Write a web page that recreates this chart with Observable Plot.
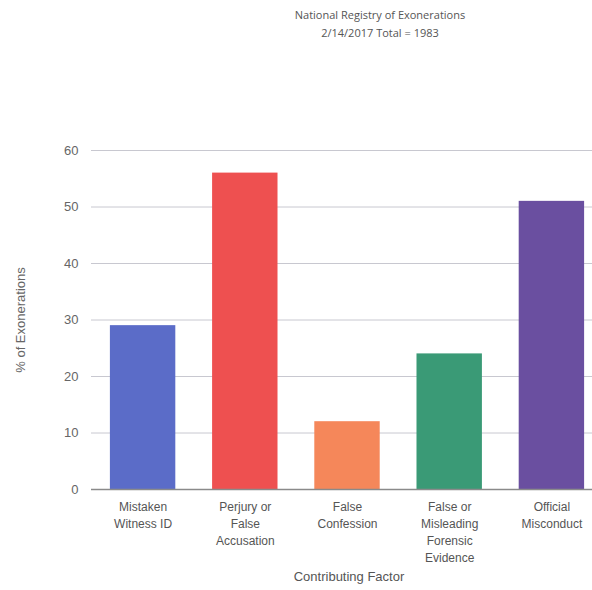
<!DOCTYPE html>
<html>
<head>
<meta charset="utf-8">
<script src="https://cdn.jsdelivr.net/npm/d3@7"></script>
<script src="https://cdn.jsdelivr.net/npm/@observablehq/plot@0.6"></script>
<style>
  html, body { margin: 0; padding: 0; background: #fff; }
  #wrap { position: relative; width: 592px; height: 590px; font-family: "Liberation Sans", Arial, sans-serif; }
  #title { position: absolute; left: 280px; width: 200px; top: 6px; text-align: center; font-size: 11px; color: #555; line-height: 18px; font-family: "Open Sans", "Liberation Sans", sans-serif; }
  #chart { position: absolute; left: 0; top: 0; }
</style>
</head>
<body>
<div id="wrap">
  <div id="title">National Registry of Exonerations<br>2/14/2017 Total = 1983</div>
  <div id="chart"></div>
</div>
<script>
const categories = [
  "Mistaken\nWitness ID",
  "Perjury or\nFalse\nAccusation",
  "False\nConfession",
  "False or\nMisleading\nForensic\nEvidence",
  "Official\nMisconduct"
];
const values = [29, 56, 12, 24, 51];
const colors = ["#5b6cc8", "#ee5050", "#f5875a", "#3a9a76", "#6a4fa0"];
const yTicks = [0, 10, 20, 30, 40, 50, 60];

const data = categories.map((c, i) => ({category: c, value: values[i], color: colors[i]}));

const chart = Plot.plot({
  width: 592,
  height: 590,
  marginTop: 150,
  marginBottom: 101,
  marginLeft: 91,
  marginRight: 0,
  style: {fontFamily: "'Liberation Sans', Arial, sans-serif", background: "transparent"},
  x: {domain: categories, range: [91.5, 602.5], paddingInner: 0.36, paddingOuter: 0.18, round: false, label: null},
  y: {domain: [0, 60], ticks: yTicks, label: null},
  marks: [
    Plot.ruleY(yTicks.filter(d => d > 0), {stroke: "#c8c8d0", strokeWidth: 1, strokeOpacity: 1}),
    Plot.barY(data, {x: "category", y: "value", fill: "color"}),
    Plot.ruleY([0], {stroke: "#8a8a8a", strokeWidth: 1.5}),
    Plot.axisY({ticks: yTicks, tickSize: 0, tickPadding: 13, fontSize: 13, fill: "#666", label: null}),
    Plot.axisX({tickSize: 0, tickPadding: 9, fontSize: 12, fill: "#555", lineHeight: 1.42, label: null}),
    Plot.text(["Contributing Factor"], {frameAnchor: "bottom", dy: 91, dx: 7, fontSize: 13, fill: "#555"}),
    Plot.text(["% of Exonerations"], {frameAnchor: "left", textAnchor: "middle", dx: -71, rotate: -90, fontSize: 13, fill: "#666"})
  ]
});
document.getElementById("chart").appendChild(chart);
</script>
</body>
</html>
